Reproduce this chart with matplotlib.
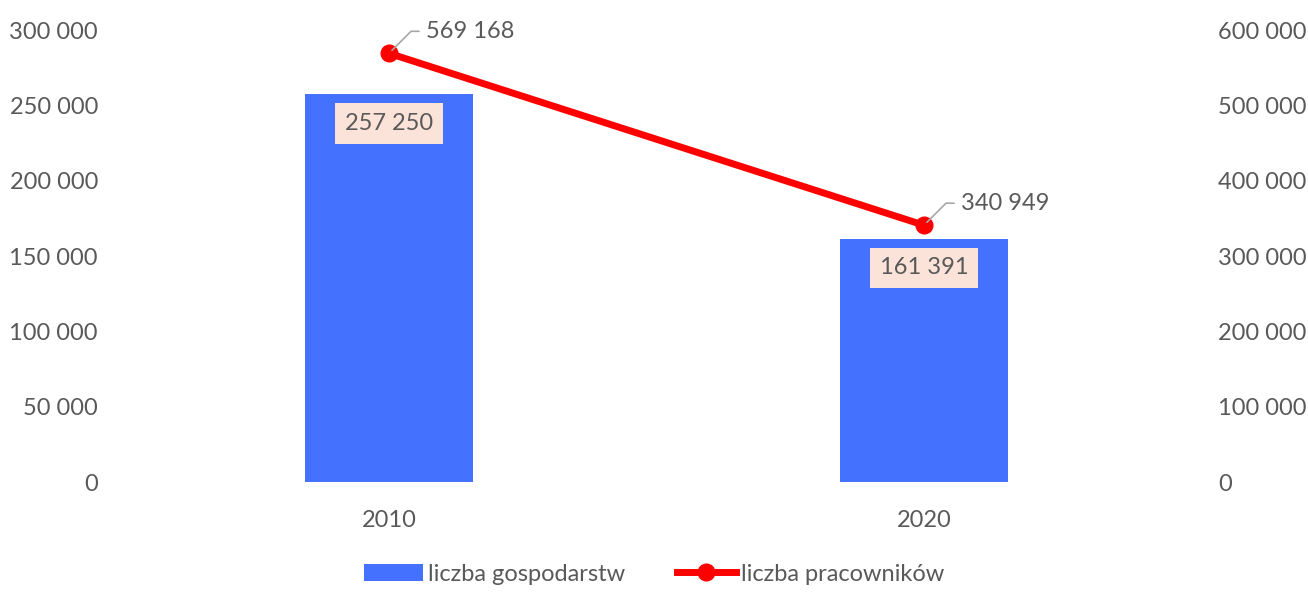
import matplotlib
matplotlib.use('Agg')
import matplotlib.pyplot as plt
from matplotlib.ticker import FuncFormatter
from matplotlib.lines import Line2D
from matplotlib.patches import Patch

plt.rcParams['font.family'] = ['Lato', 'DejaVu Sans']

years = ['2010', '2020']
gospodarstwa = [257250, 161391]
pracownicy = [569168, 340949]

bar_color = '#4472FF'
line_color = '#FF0000'
text_color = '#595959'


def fmt(v, pos=None):
    return f'{int(v):,}'.replace(',', ' ')


fig = plt.figure(figsize=(13.08, 5.97), dpi=100)
ax = fig.add_axes([0.0929, 0.1926, 0.818, 0.757])
ax2 = ax.twinx()

x = list(range(len(years)))
ax.bar(x, gospodarstwa, width=0.314, color=bar_color, zorder=2)
ax2.plot(x, pracownicy, color=line_color, linewidth=5, marker='o',
         markersize=12, solid_capstyle='round', zorder=3)

ax.set_xlim(-0.5, 1.5)
ax.set_ylim(0, 300000)
ax2.set_ylim(0, 600000)
ax.set_yticks(range(0, 300001, 50000))
ax2.set_yticks(range(0, 600001, 100000))
ax.yaxis.set_major_formatter(FuncFormatter(fmt))
ax2.yaxis.set_major_formatter(FuncFormatter(fmt))
ax.set_xticks(x)
ax.set_xticklabels(years)

for a in (ax, ax2):
    for s in a.spines.values():
        s.set_visible(False)
    a.tick_params(length=0, labelsize=17, labelcolor=text_color)
ax.tick_params(axis='y', pad=17)
ax2.tick_params(axis='y', pad=19)
ax.tick_params(axis='x', pad=20)

# bar labels inside top of the bars
for xi, v in zip(x, gospodarstwa):
    ax.annotate(fmt(v), xy=(xi, v), xytext=(0, -29), textcoords='offset pixels',
                ha='center', va='center', fontsize=17, color=text_color,
                bbox=dict(facecolor='#FBE3D9', edgecolor='none', pad=7), zorder=4)

# line labels with leader lines
for xi, v in zip(x, pracownicy):
    ax2.annotate(fmt(v), xy=(xi, v), xytext=(37, 22), textcoords='offset pixels',
                 ha='left', va='center', fontsize=17, color=text_color,
                 arrowprops=dict(arrowstyle='-', color='#A6A6A6', lw=1.2,
                                 shrinkA=3, shrinkB=3,
                                 connectionstyle='angle,angleA=0,angleB=45,rad=0'))

handles = [Patch(facecolor=bar_color, edgecolor='none'),
           Line2D([0], [0], color=line_color, linewidth=5, marker='o', markersize=12)]
fig.legend(handles, ['liczba gospodarstw', 'liczba pracowników'],
           loc='lower center', bbox_to_anchor=(0.5, -0.015), ncol=2, frameon=False,
           fontsize=17, labelcolor=text_color, handlelength=2.5, handletextpad=0.2,
           columnspacing=2.2, numpoints=1)

fig.savefig('out.png', dpi=100)
